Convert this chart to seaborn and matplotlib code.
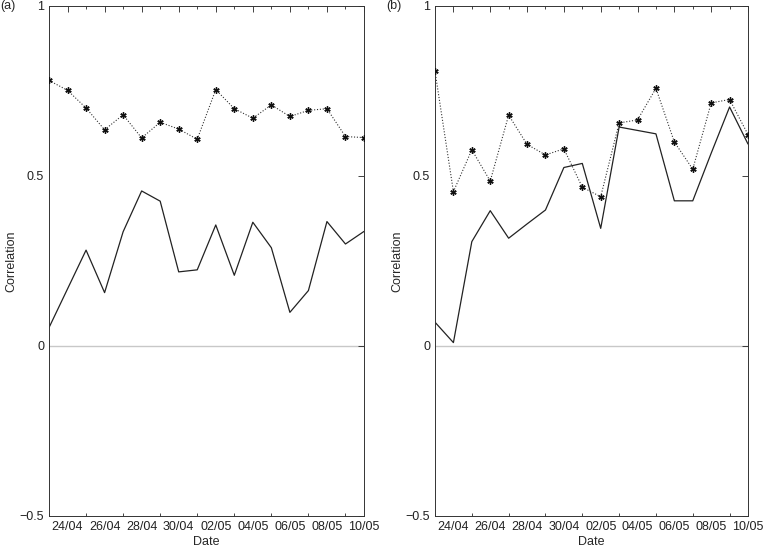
import numpy as np
import pandas as pd
import matplotlib
matplotlib.use("Agg")
import matplotlib.pyplot as plt
import matplotlib.dates as mdates
import seaborn as sns

# ---- data ----
dates = pd.date_range("2008-04-23", "2008-05-10", freq="D")
a_dotted = [0.781, 0.752, 0.700, 0.636, 0.680, 0.612, 0.658, 0.638, 0.608,
            0.754, 0.698, 0.670, 0.709, 0.675, 0.693, 0.698, 0.616, 0.613]
a_solid = [0.054, 0.168, 0.282, 0.157, 0.336, 0.456, 0.426, 0.218, 0.224,
           0.356, 0.208, 0.364, 0.289, 0.099, 0.163, 0.366, 0.300, 0.337]
b_dotted = [0.808, 0.454, 0.577, 0.485, 0.679, 0.593, 0.562, 0.580, 0.467,
            0.439, 0.656, 0.665, 0.758, 0.600, 0.520, 0.715, 0.725, 0.622]
b_solid = [0.070, 0.010, 0.307, 0.398, 0.317, 0.359, 0.400, 0.525, 0.537,
           0.346, 0.644, 0.634, 0.624, 0.427, 0.427, 0.567, 0.703, 0.594]
panel_labels = ["(a)", "(b)"]
y_ticks = [-0.5, 0, 0.5, 1]
y_tick_labels = ["\u22120.5", "0", "0.5", "1"]

sns.set_style("white")
plt.rcParams["font.family"] = ["Liberation Sans", "DejaVu Sans"]
plt.rcParams["font.size"] = 9

fig = plt.figure(figsize=(7.66, 5.47), dpi=100)
ax_a = fig.add_axes([49 / 766, 31 / 547, 315 / 766, 510 / 547])
ax_b = fig.add_axes([435 / 766, 31 / 547, 313 / 766, 510 / 547])

panels = [(ax_a, a_dotted, a_solid), (ax_b, b_dotted, b_solid)]
for i, (ax, dotted, solid) in enumerate(panels):
    df = pd.DataFrame({"date": dates, "dotted": dotted, "solid": solid})
    ax.axhline(0, color="#c8c8c8", lw=1.0, zorder=0)
    sns.lineplot(data=df, x="date", y="solid", ax=ax, color="#222222",
                 lw=0.9, zorder=2)
    sns.lineplot(data=df, x="date", y="dotted", ax=ax, color="#333333",
                 lw=0.8, linestyle=(0, (1.0, 1.6)), marker=(6, 2, 0),
                 markersize=4.5, markeredgecolor="#111111",
                 markeredgewidth=1.0, zorder=3)
    ax.set_xlim(dates[0], dates[-1])
    ax.set_ylim(-0.5, 1)
    ax.set_yticks(y_ticks)
    ax.set_yticklabels(y_tick_labels)
    ax.set_xticks(dates[1::2])
    ax.xaxis.set_major_formatter(mdates.DateFormatter("%d/%m"))
    ax.xaxis.set_minor_locator(mdates.DayLocator())
    ax.tick_params(axis="both", which="major", direction="in", length=4,
                   width=0.6, top=True, right=True, labelsize=9,
                   colors="#222222", pad=3.5)
    ax.tick_params(axis="x", which="minor", direction="in", length=2,
                   width=0.6, top=True, bottom=True)
    for sp in ax.spines.values():
        sp.set_color("#333333")
        sp.set_linewidth(0.7)
    ax.set_xlabel("Date", fontsize=9, va="baseline")
    ax.xaxis.set_label_coords(0.5, -0.0565)
    ax.set_ylabel("Correlation", fontsize=9, va="center")
    ax.yaxis.set_label_coords(-0.121, 0.5)
    ax.text(-0.155, 1.0, panel_labels[i],
            transform=ax.transAxes, ha="left", va="center", fontsize=9)

fig.savefig("out.png", dpi=100, facecolor="white")
